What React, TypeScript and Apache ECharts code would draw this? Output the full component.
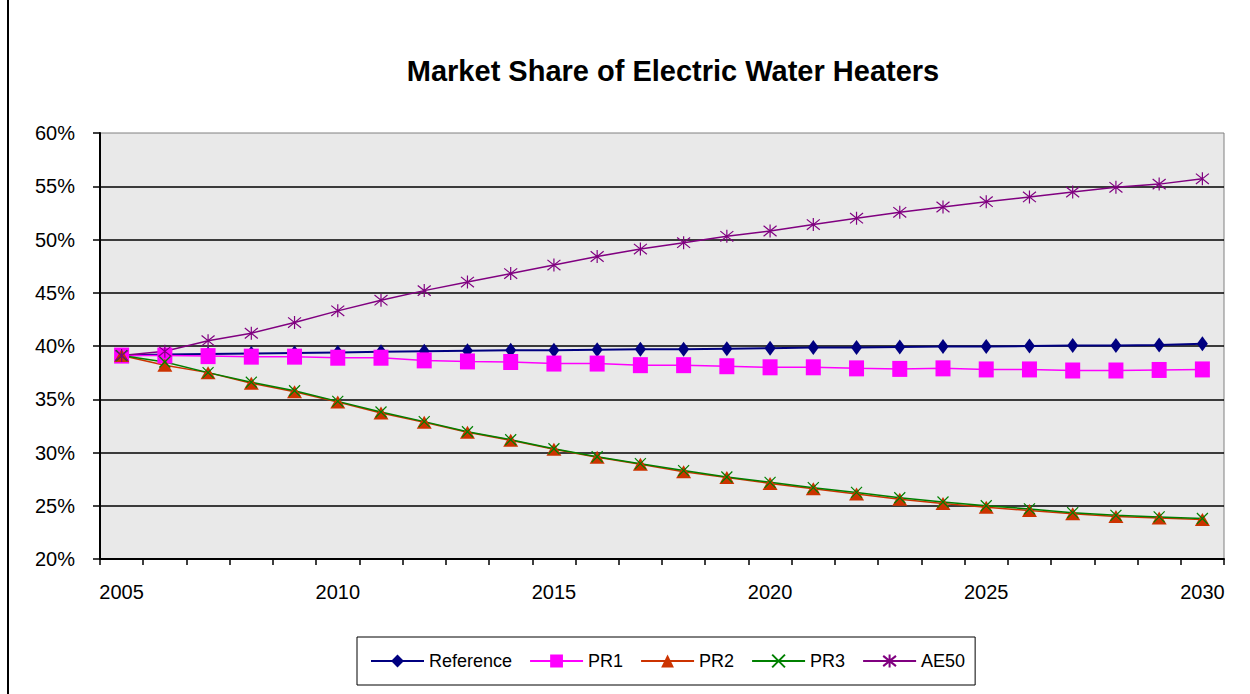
import React, { useEffect, useRef } from 'react';
import * as echarts from 'echarts';

const years = ['2005', '2006', '2007', '2008', '2009', '2010', '2011', '2012', '2013', '2014', '2015', '2016', '2017', '2018', '2019', '2020', '2021', '2022', '2023', '2024', '2025', '2026', '2027', '2028', '2029', '2030'];

const reference = [39.1, 39.2, 39.25, 39.3, 39.35, 39.4, 39.45, 39.5, 39.55, 39.6, 39.6, 39.65, 39.7, 39.7, 39.75, 39.8, 39.85, 39.85, 39.9, 39.95, 39.95, 40.0, 40.05, 40.05, 40.1, 40.2];
const pr1 = [39.1, 39.1, 39.05, 39.0, 39.0, 38.9, 38.9, 38.65, 38.55, 38.5, 38.35, 38.35, 38.2, 38.2, 38.1, 38.0, 38.0, 37.9, 37.85, 37.9, 37.8, 37.8, 37.7, 37.7, 37.75, 37.8];
const pr2 = [39.1, 38.2, 37.5, 36.5, 35.7, 34.75, 33.7, 32.85, 31.9, 31.15, 30.3, 29.55, 28.9, 28.2, 27.65, 27.1, 26.6, 26.1, 25.6, 25.2, 24.85, 24.55, 24.25, 24.0, 23.85, 23.7];
const pr3 = [39.1, 38.5, 37.5, 36.6, 35.8, 34.8, 33.8, 32.9, 31.95, 31.2, 30.35, 29.6, 28.95, 28.3, 27.7, 27.2, 26.7, 26.25, 25.75, 25.35, 25.0, 24.7, 24.35, 24.1, 23.95, 23.8];
const ae50 = [39.1, 39.5, 40.5, 41.2, 42.2, 43.3, 44.3, 45.2, 46.0, 46.8, 47.6, 48.4, 49.1, 49.7, 50.3, 50.8, 51.4, 52.0, 52.55, 53.05, 53.55, 54.0, 54.45, 54.9, 55.2, 55.7];

const seriesNames = ['Reference', 'PR1', 'PR2', 'PR3', 'AE50'];
const titleText = 'Market Share of Electric Water Heaters';
const yMin = 20;
const yMax = 60;
const yStep = 5;

const FONT = '"Liberation Sans", Arial, sans-serif';

export default function App() {
  const ref = useRef<HTMLDivElement>(null);

  useEffect(() => {
    const chart = echarts.init(ref.current as HTMLDivElement, null, { renderer: 'svg' });
    chart.setOption({
      animation: false,
      backgroundColor: '#ffffff',
      graphic: [
        {
          type: 'line',
          shape: { x1: 8, y1: 0, x2: 8, y2: 694 },
          style: { stroke: '#000', lineWidth: 2 },
        },
        {
          type: 'text',
          x: 673,
          y: 71,
          style: {
            text: titleText,
            fontSize: 29,
            fontWeight: 'bold',
            fontFamily: FONT,
            fill: '#000',
            align: 'center',
            verticalAlign: 'middle',
          },
        },
      ],
      grid: {
        left: 100,
        top: 133,
        width: 1124,
        height: 426,
        show: true,
        backgroundColor: '#e9e9e9',
        borderColor: '#808080',
        borderWidth: 1,
        containLabel: false,
      },
      legend: {
        data: seriesNames,
        left: 357,
        top: 637,
        orient: 'horizontal',
        itemWidth: 53,
        itemHeight: 16,
        itemGap: 17,
        padding: [15, 10, 15, 13],
        borderColor: '#000',
        borderWidth: 1,
        textStyle: { fontSize: 18, fontFamily: FONT, color: '#000' },
      },
      xAxis: {
        type: 'category',
        data: years,
        boundaryGap: true,
        axisLine: { show: true, lineStyle: { color: '#000', width: 2 } },
        axisTick: { show: true, interval: 0, length: 6, lineStyle: { color: '#000', width: 1.5 } },
        axisLabel: { interval: 4, fontSize: 20, fontFamily: FONT, color: '#000', margin: 23 },
        splitLine: { show: false },
      },
      yAxis: {
        type: 'value',
        min: yMin,
        max: yMax,
        interval: yStep,
        axisLine: { show: true, lineStyle: { color: '#000', width: 2 } },
        axisTick: { show: true, length: 7, lineStyle: { color: '#000', width: 1.5 } },
        axisLabel: { formatter: '{value}%', fontSize: 20, fontFamily: FONT, color: '#000', margin: 25 },
        splitLine: { show: true, showMinLine: false, showMaxLine: false, lineStyle: { color: '#000', width: 1.5 } },
      },
      series: [
        {
          name: 'Reference',
          type: 'line',
          data: reference,
          symbol: 'diamond',
          symbolSize: [11, 15],
          itemStyle: { color: '#000080' },
          lineStyle: { color: '#000080', width: 2 },
        },
        {
          name: 'PR1',
          type: 'line',
          data: pr1,
          symbol: 'rect',
          symbolSize: [15, 16],
          itemStyle: { color: '#ff00ff' },
          lineStyle: { color: '#ff00ff', width: 1.5 },
        },
        {
          name: 'PR2',
          type: 'line',
          data: pr2,
          symbol: 'triangle',
          symbolSize: [15, 13],
          itemStyle: { color: '#cc3300' },
          lineStyle: { color: '#cc3300', width: 1.5 },
        },
        {
          name: 'PR3',
          type: 'line',
          data: pr3,
          symbol: 'path://M0,0L10,10M10,0L0,10',
          symbolSize: 11,
          itemStyle: { color: 'rgba(0,0,0,0)', borderColor: '#008000', borderWidth: 1.2 },
          lineStyle: { color: '#008000', width: 1.5 },
        },
        {
          name: 'AE50',
          type: 'line',
          data: ae50,
          symbol: 'path://M0,1L10,9M10,1L0,9M5,0L5,10',
          symbolSize: 13,
          itemStyle: { color: 'rgba(0,0,0,0)', borderColor: '#800080', borderWidth: 1.2 },
          lineStyle: { color: '#800080', width: 1.5 },
        },
      ],
    });
    return () => chart.dispose();
  }, []);

  return (
    <div
      ref={ref}
      style={{ position: 'fixed', left: 0, top: 0, width: 1250, height: 694, background: '#fff' }}
    />
  );
}
